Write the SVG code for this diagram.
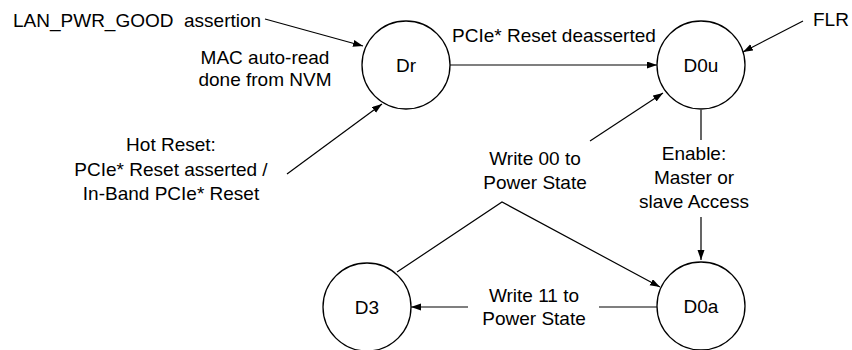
<svg xmlns="http://www.w3.org/2000/svg" width="852" height="350" viewBox="0 0 852 350">
<defs>
<marker id="arr" markerUnits="userSpaceOnUse" markerWidth="11" markerHeight="8" refX="10" refY="3.5" orient="auto">
<path d="M0,0 L10,3.5 L0,7 z" fill="#000"/>
</marker>
<style>
.st{fill:#fff;stroke:#000;stroke-width:1.3}
.c{fill:none;stroke:#000;stroke-width:1.2}
.a{marker-end:url(#arr)}
text{font-family:"Liberation Sans",Arial,sans-serif;font-size:19px;fill:#000}
.m{text-anchor:middle}
</style>
</defs>
<rect width="852" height="350" fill="#fff"/>
<g id="connectors">
<path class="c a" d="M265,19 L363,46"/>
<path class="c a" d="M287,174 L382,104"/>
<path class="c a" d="M450,65 L657,65"/>
<path class="c a" d="M803,21 L743,52"/>
<path class="c a" d="M590,141 L663,93"/>
<path class="c a" d="M701,110 V140 M701,217 V260"/>
<path class="c a" d="M397,272 L502,202 L660,287"/>
<path class="c a" d="M657,307 H599 M468,307 H411"/>
</g>
<g id="labels">
<text x="13" y="27" xml:space="preserve">LAN_PWR_GOOD  assertion</text>
<text class="m" x="265" y="64">MAC auto-read</text>
<text class="m" x="265" y="86">done from NVM</text>
<text class="m" x="171" y="151">Hot Reset:</text>
<text class="m" x="171" y="176">PCIe* Reset asserted /</text>
<text class="m" x="171" y="200">In-Band PCIe* Reset</text>
<text x="452" y="42">PCIe* Reset deasserted</text>
<text x="813" y="26">FLR</text>
<text class="m" x="535" y="165">Write 00 to</text>
<text class="m" x="535" y="189">Power State</text>
<text class="m" x="694" y="160">Enable:</text>
<text class="m" x="694" y="184">Master or</text>
<text class="m" x="694" y="208">slave Access</text>
<text class="m" x="534" y="302">Write 11 to</text>
<text class="m" x="534" y="325">Power State</text>
</g>
<g id="Dr"><circle class="st" cx="406" cy="65" r="44"/><text class="m" x="406" y="72">Dr</text></g>
<g id="D0u"><circle class="st" cx="701" cy="65" r="44"/><text class="m" x="701" y="72">D0u</text></g>
<g id="D3"><circle class="st" cx="367" cy="307" r="44"/><text class="m" x="367" y="314">D3</text></g>
<g id="D0a"><circle class="st" cx="701" cy="306" r="44"/><text class="m" x="701" y="313">D0a</text></g>
</svg>
